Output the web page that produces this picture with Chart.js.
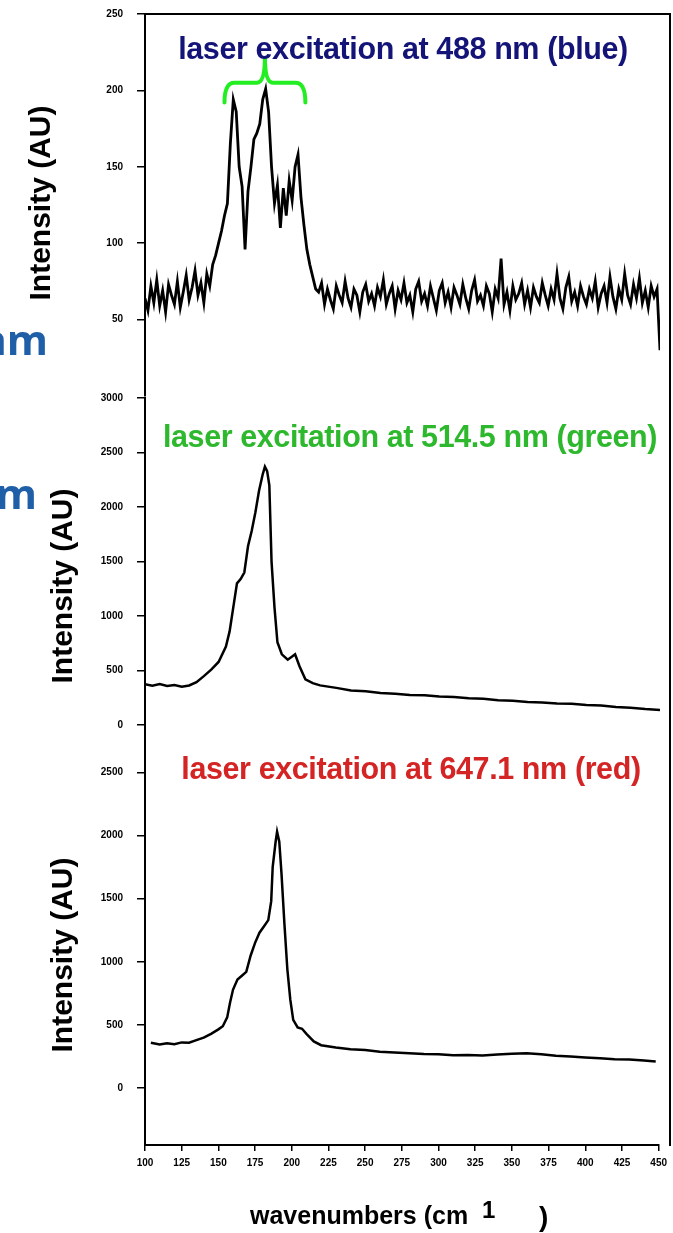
<!DOCTYPE html>
<html>
<head>
<meta charset="utf-8">
<script src="https://cdn.jsdelivr.net/npm/chart.js@4.4.0/dist/chart.umd.min.js"></script>
<style>
  html, body { margin: 0; padding: 0; background: #fff; }
  #page { position: relative; width: 673px; height: 1233px; overflow: hidden; font-family: "Liberation Sans", Arial, sans-serif; }
  canvas { position: absolute; left: 0; }
  .txt { position: absolute; white-space: nowrap; font-weight: bold; }
  .ttl { font-size: 30.5px; transform: translateX(-50%); letter-spacing: -0.4px; }
  .ylab { font-size: 30px; transform: translate(-50%, -50%) rotate(-90deg); color: #000; }
  .line { position: absolute; background: #000; }
  .side { font-family: "Open Sans", "Noto Sans", sans-serif; color: #1f5fa8; font-size: 42px; text-align: right; }
</style>
</head>
<body>
<div id="page">
  <canvas id="topChart" width="673" height="415"></canvas>
  <canvas id="midChart" width="673" height="381"></canvas>
  <canvas id="botChart" width="673" height="506"></canvas>

  <div class="line" style="left:145px; top:13px; width:526px; height:2px"></div>
  <div class="line" style="left:669px; top:13px; width:2px; height:1133px"></div>

  <div class="txt ttl" style="left:403px; top:31px; color:#141478">laser excitation at 488 nm (blue)</div>
  <div class="txt ttl" style="left:410px; top:419px; color:#2db82d">laser excitation at 514.5 nm (green)</div>
  <div class="txt ttl" style="left:411px; top:751px; color:#d42424">laser excitation at 647.1 nm (red)</div>

  <div class="txt ylab" style="left:40px; top:203px">Intensity (AU)</div>
  <div class="txt ylab" style="left:62px; top:586px">Intensity (AU)</div>
  <div class="txt ylab" style="left:62px; top:955px">Intensity (AU)</div>

  <div class="txt" style="left:250px; top:1201px; font-size:25px">wavenumbers (cm</div>
  <div class="txt" style="left:482px; top:1196px; font-size:24px">1</div>
  <div class="txt" style="left:539px; top:1201px; font-size:28px">)</div>

  <div class="txt side" style="right:625px; top:310px">nm</div>
  <div class="txt side" style="right:636px; top:464px">m</div>
</div>

<script>
// wavenumber ticks (cm-1)
const xTicks = [100, 125, 150, 175, 200, 225, 250, 275, 300, 325, 350, 375, 400, 425, 450];

// 488 nm (blue) spectrum
const blueWn = [
  100, 102, 104, 106, 108, 110, 112, 114, 116, 118, 120, 122,
  124, 126, 128, 130, 132, 134, 136, 138, 140, 142, 144, 146,
  148, 150, 152, 154, 156, 158, 160, 162, 164, 166, 168, 170,
  172, 174, 176, 178, 180, 182, 184, 186, 188, 190, 192, 194,
  196, 198, 200, 202, 204, 206, 208, 210, 212, 214, 216, 218,
  220, 222, 224, 226, 228, 230, 232, 234, 236, 238, 240, 242,
  244, 246, 248, 250, 252, 254, 256, 258, 260, 262, 264, 266,
  268, 270, 272, 274, 276, 278, 280, 282, 284, 286, 288, 290,
  292, 294, 296, 298, 300, 302, 304, 306, 308, 310, 312, 314,
  316, 318, 320, 322, 324, 326, 328, 330, 332, 334, 336, 338,
  340, 342, 344, 346, 348, 350, 352, 354, 356, 358, 360, 362,
  364, 366, 368, 370, 372, 374, 376, 378, 380, 382, 384, 386,
  388, 390, 392, 394, 396, 398, 400, 402, 404, 406, 408, 410,
  412, 414, 416, 418, 420, 422, 424, 426, 428, 430, 432, 434,
  436, 438, 440, 442, 444, 446, 448, 450
];
const blueVals = [
  64, 56, 72, 61, 76, 59, 69, 55, 73, 66, 60, 75,
  58, 68, 79, 63, 71, 82, 66, 74, 61, 80, 72, 86,
  92, 100, 108, 118, 126, 165, 194, 186, 150, 137, 96, 134,
  150, 168, 172, 178, 194, 201, 186, 150, 126, 138, 110, 136,
  118, 141, 128, 150, 158, 130, 112, 96, 86, 78, 70, 68,
  74, 60, 70, 63, 57, 72, 66, 61, 75, 64, 58, 70,
  66, 55, 68, 73, 62, 67, 59, 71, 65, 76, 60, 67,
  72, 57, 69, 63, 74, 61, 66, 55, 70, 75, 62, 67,
  59, 72, 64, 56, 69, 74, 61, 68, 58, 71, 66, 60,
  73, 64, 57, 69, 76, 62, 66, 59, 72, 67, 55, 70,
  64, 90, 60, 68, 56, 72, 63, 67, 74, 60, 69, 58,
  71, 65, 61, 74, 66, 59, 70, 63, 80, 64, 57, 71,
  78, 62, 68, 59, 72, 65, 60, 70, 64, 75, 58, 67,
  72, 61, 78, 65, 57, 70, 63, 80, 66, 60, 73, 64,
  77, 61, 69, 58, 72, 65, 70, 30
];

// 514.5 nm (green) spectrum
const greenWn = [
  100, 105, 110, 115, 120, 125, 130, 135, 140, 145, 150, 155, 157.5, 160, 162.5, 165, 167.5,
  170, 172.5, 175, 177.5, 180, 181.5, 183, 184.5, 186, 188, 190, 193, 197, 200, 202, 205, 209,
  214, 219, 230, 240, 250, 260, 270, 280, 290, 300, 310, 320, 330, 340, 350, 360, 370, 380,
  390, 400, 410, 420, 430, 440, 450
];
const greenVals = [
  375, 362, 378, 360, 368, 352, 364, 395, 450, 510, 580, 720, 860, 1080, 1300, 1340, 1400,
  1640, 1780, 1950, 2150, 2300, 2370, 2330, 2200, 1500, 1080, 760, 650, 600, 630, 650, 540, 420,
  385, 365, 342, 318, 312, 296, 288, 276, 274, 262, 258, 246, 242, 228, 224, 212, 209, 198,
  196, 184, 180, 166, 160, 148, 140
];

// 647.1 nm (red) spectrum
const redWn = [
  104, 110, 115, 120, 125, 130, 135, 140, 145, 150, 153, 156, 158, 160, 163, 166, 169, 172,
  175, 178, 181, 184, 186, 187, 189, 190, 191.5, 193, 195, 197, 199, 201, 204, 207, 210, 215,
  220, 230, 240, 250, 260, 270, 280, 290, 300, 310, 320, 330, 340, 350, 360, 370, 380, 390,
  400, 410, 420, 430, 440, 448
];
const redVals = [
  360, 345, 356, 348, 362, 360, 380, 400, 430, 465, 490, 560, 680, 780, 860, 890, 920, 1050,
  1150, 1230, 1280, 1330, 1480, 1750, 1950, 2030, 1950, 1700, 1300, 940, 700, 540, 480, 470, 430, 370,
  340, 322, 308, 302, 288, 282, 276, 270, 268, 260, 262, 258, 266, 272, 276, 268, 256, 250,
  242, 236, 228, 226, 218, 210
];

// y ticks per panel
const blueTicks = [50, 100, 150, 200, 250];
const greenTicks = [0, 500, 1000, 1500, 2000, 2500, 3000];
const redTicks = [0, 500, 1000, 1500, 2000, 2500];

const tickFont = { family: 'Liberation Sans', size: 10, weight: 'bold' };

function toPoints(xs, ys) {
  return xs.map((x, i) => ({ x: x, y: ys[i] }));
}

function buildConfig(xs, ys, cfg) {
  return {
    type: 'line',
    data: {
      datasets: [{
        data: toPoints(xs, ys),
        borderColor: '#000',
        borderWidth: cfg.lineWidth,
        pointRadius: 0,
        tension: 0
      }]
    },
    options: {
      responsive: false,
      maintainAspectRatio: false,
      animation: false,
      layout: { padding: cfg.padding },
      plugins: { legend: { display: false }, tooltip: { enabled: false } },
      scales: {
        x: {
          type: 'linear',
          min: 100,
          max: 450,
          display: cfg.showX,
          afterBuildTicks: s => { s.ticks = xTicks.map(v => ({ value: v })); },
          afterFit: s => { if (cfg.showX) s.height = 30; },
          border: { display: true, color: '#000', width: 2 },
          grid: { drawOnChartArea: false, color: '#000', lineWidth: 1.5, tickLength: 6 },
          ticks: { color: '#000', font: tickFont, padding: 6, maxRotation: 0, callback: v => String(v) }
        },
        y: {
          min: cfg.yMin,
          max: cfg.yMax,
          afterBuildTicks: s => { s.ticks = cfg.yTicks.map(v => ({ value: v })); },
          afterFit: s => { s.width = 145; },
          border: { display: true, color: '#000', width: 2 },
          grid: { drawOnChartArea: false, color: '#000', lineWidth: 1.5, tickLength: 8 },
          ticks: { color: '#000', font: tickFont, padding: 14, callback: v => String(v) }
        }
      }
    },
    plugins: cfg.plugins || []
  };
}

// draw once to learn how much room the axes take, then size the canvas
// so the plot area spans the same rows as the reference panel
function makeChart(id, xs, ys, cfg) {
  const canvas = document.getElementById(id);
  let chart = new Chart(canvas, buildConfig(xs, ys, cfg));
  const a = chart.chartArea;
  const newH = Math.round(canvas.height + (cfg.plotBottom - cfg.plotTop) - (a.bottom - a.top));
  chart.destroy();
  canvas.width = 673;
  canvas.height = newH;
  canvas.style.width = '673px';
  canvas.style.height = newH + 'px';
  chart = new Chart(canvas, buildConfig(xs, ys, cfg));
  canvas.style.top = (cfg.plotTop - chart.chartArea.top) + 'px';
  return chart;
}

// green curly bracket marking the two peaks in the 488 nm panel
const bracketPlugin = {
  id: 'bracket',
  afterDatasetsDraw(chart) {
    const { ctx, scales: { x, y } } = chart;
    const x0 = x.getPixelForValue(154), x1 = x.getPixelForValue(209), xm = x.getPixelForValue(181.5);
    const yb = y.getPixelForValue(192), yh = y.getPixelForValue(205), yt = y.getPixelForValue(222);
    ctx.save();
    ctx.strokeStyle = '#22ee22';
    ctx.lineWidth = 4;
    ctx.lineCap = 'round';
    ctx.beginPath();
    ctx.moveTo(x0, yb);
    ctx.quadraticCurveTo(x0, yh, x0 + 10, yh);
    ctx.lineTo(xm - 8, yh);
    ctx.quadraticCurveTo(xm, yh, xm, yt);
    ctx.quadraticCurveTo(xm, yh, xm + 8, yh);
    ctx.lineTo(x1 - 10, yh);
    ctx.quadraticCurveTo(x1, yh, x1, yb);
    ctx.stroke();
    ctx.restore();
  }
};

makeChart('topChart', blueWn, blueVals, {
  yMin: 0, yMax: 250, yTicks: blueTicks, showX: false, lineWidth: 2.8,
  padding: { top: 0, bottom: 0, left: 0, right: 13 }, plotTop: 14, plotBottom: 396,
  plugins: [bracketPlugin]
});

makeChart('midChart', greenWn, greenVals, {
  yMin: -200, yMax: 3000, yTicks: greenTicks, showX: false, lineWidth: 2.5,
  padding: { top: 0, bottom: 0, left: 0, right: 13 }, plotTop: 398, plotBottom: 747
});

makeChart('botChart', redWn, redVals, {
  yMin: -450, yMax: 2700, yTicks: redTicks, showX: true, lineWidth: 2.5,
  padding: { top: 0, bottom: 58, left: 0, right: 13 }, plotTop: 747, plotBottom: 1145
});
</script>
</body>
</html>
